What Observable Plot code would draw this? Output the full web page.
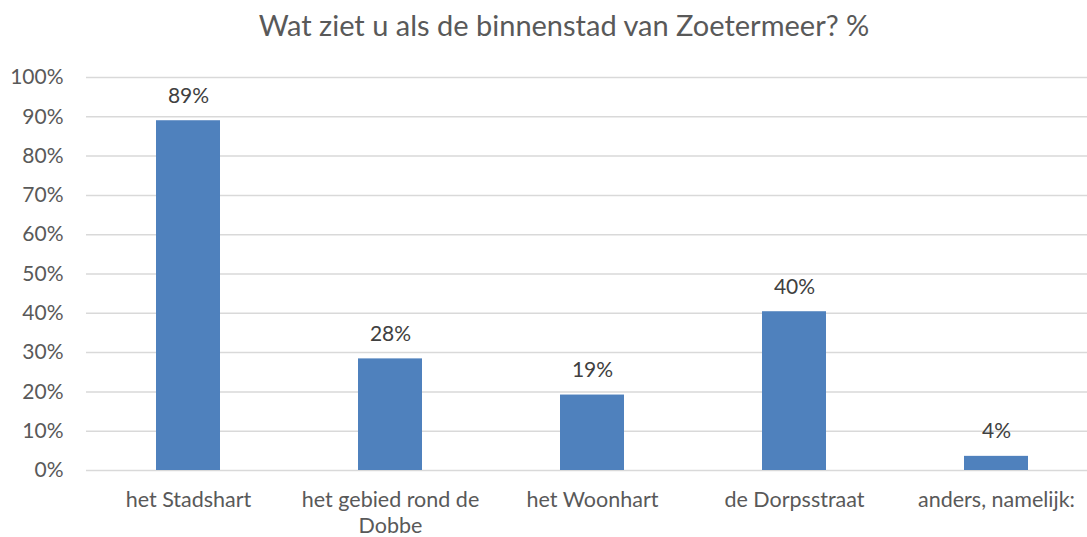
<!DOCTYPE html>
<html><head><meta charset="utf-8">
<script src="https://cdn.jsdelivr.net/npm/d3@7"></script>
<script src="https://cdn.jsdelivr.net/npm/@observablehq/plot@0.6"></script>
<style>
body{margin:0;overflow:hidden;background:#fff;font-family:Lato, sans-serif;}
#title{height:50px;position:relative;}
#title span{position:absolute;left:564px;top:0;line-height:50px;transform:translateX(-50%);font-size:29px;color:#595959;white-space:nowrap;}
</style></head><body>
<div id="title"><span>Wat ziet u als de binnenstad van Zoetermeer? %</span></div>
<div id="chart"></div>
<script>
const categories = ["het Stadshart", "het gebied rond de Dobbe", "het Woonhart", "de Dorpsstraat", "anders, namelijk:"];
const tickLabels = ["het Stadshart", "het gebied rond de\nDobbe", "het Woonhart", "de Dorpsstraat", "anders, namelijk:"];
const values = [89, 28.4, 19.2, 40.4, 3.6];
const valueLabels = ["89%", "28%", "19%", "40%", "4%"];
const yTicks = [0, 10, 20, 30, 40, 50, 60, 70, 80, 90, 100];

const data = categories.map((c, i) => ({category: c, value: values[i], label: valueLabels[i]}));

const chart = Plot.plot({
  width: 1087, height: 487,
  marginTop: 27, marginBottom: 67, marginLeft: 86, marginRight: 0,
  style: {fontFamily: "Lato, sans-serif", background: "#fff", color: "#595959", overflow: "visible"},
  x: {domain: categories, range: [86.4, 1097.6], paddingInner: 0.684, paddingOuter: 0.342, label: null},
  y: {domain: [0, 100], label: null},
  marks: [
    Plot.ruleY(yTicks, {stroke: "#D9D9D9", strokeWidth: 1.5}),
    Plot.barY(data, {x: "category", y: "value", fill: "#4F81BD"}),
    Plot.text(data, {x: "category", y: "value", text: "label", dy: -18, lineAnchor: "bottom", fontSize: 21, fill: "#404040"}),
    Plot.axisY(yTicks, {tickSize: 0, tickPadding: 23, tickFormat: d => d + "%", fontSize: 21, fill: "#595959", label: null}),
    Plot.axisX({tickSize: 0, tickPadding: 17, fontSize: 21.5, lineHeight: 1.25, fill: "#595959", label: null,
      tickFormat: d => tickLabels[categories.indexOf(d)]})
  ]
});
document.getElementById("chart").append(chart);
</script>
</body></html>
